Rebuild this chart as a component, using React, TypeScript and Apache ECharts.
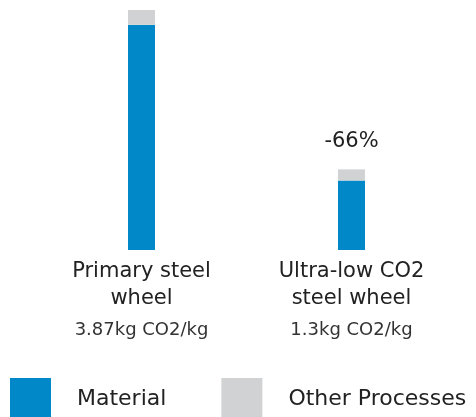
import React, { useEffect, useRef } from "react";
import * as echarts from "echarts";

const categories = ["Primary steel\nwheel", "Ultra-low CO2\nsteel wheel"];
const totalLabels = ["3.87kg CO2/kg", "1.3kg CO2/kg"];
const materialValues = [3.63, 1.12];
const otherValues = [0.24, 0.18];
const changeLabels = ["", "-66%"];

const BLUE = "#0088C8";
const GRAY = "#D1D2D4";
const FONT = "'DejaVu Sans', 'Noto Sans', sans-serif";

export default function App() {
  const ref = useRef<HTMLDivElement>(null);

  useEffect(() => {
    if (!ref.current) return;
    const chart = echarts.init(ref.current, undefined, { renderer: "svg" });
    chart.setOption({
      animation: false,
      textStyle: { fontFamily: FONT },
      grid: { left: 36.5, right: 19.5, top: 10, bottom: 167 },
      xAxis: {
        type: "category",
        data: categories,
        axisLine: { show: false },
        axisTick: { show: false },
        axisLabel: {
          margin: 6,
          interval: 0,
          formatter: (value: string, idx: number) => {
            const lines = value.split("\n").map((l) => `{a|${l}}`);
            return [...lines, `{b|${totalLabels[idx]}}`].join("\n");
          },
          rich: {
            a: { fontSize: 21, lineHeight: 27, color: "#222", fontFamily: FONT },
            b: { fontSize: 18, lineHeight: 37, color: "#333", fontFamily: FONT },
          },
        },
      },
      yAxis: {
        type: "value",
        min: 0,
        max: 3.87,
        show: false,
        splitLine: { show: false },
      },
      legend: {
        left: 10,
        top: 378,
        padding: 0,
        icon: "rect",
        itemWidth: 41,
        itemHeight: 39,
        itemGap: 55,
        textStyle: {
          fontSize: 22,
          color: "#222",
          fontFamily: FONT,
          padding: [0, 0, 0, 21],
        },
        data: ["Material", "Other Processes"],
      },
      series: [
        {
          name: "Material",
          type: "bar",
          stack: "total",
          barWidth: 27,
          itemStyle: { color: BLUE },
          data: materialValues,
        },
        {
          name: "Other Processes",
          type: "bar",
          stack: "total",
          barWidth: 27,
          itemStyle: { color: GRAY },
          data: otherValues.map((v, i) => ({
            value: v,
            label: {
              show: changeLabels[i] !== "",
              position: "top",
              distance: 19,
              formatter: changeLabels[i],
              fontSize: 21,
              color: "#222",
              fontFamily: FONT,
            },
          })),
        },
      ],
    });
    return () => chart.dispose();
  }, []);

  return (
    <div
      ref={ref}
      style={{ position: "fixed", left: 0, top: 0, width: 476, height: 417 }}
    />
  );
}
